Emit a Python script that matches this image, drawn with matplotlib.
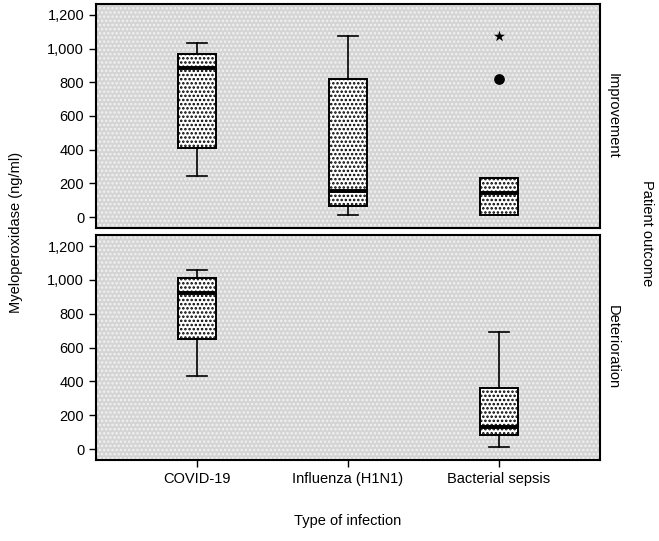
import numpy as np
import matplotlib.pyplot as plt
from matplotlib.patches import Rectangle
from matplotlib.ticker import FuncFormatter

plt.rcParams['font.family'] = ['Liberation Sans', 'DejaVu Sans']
plt.rcParams['hatch.linewidth'] = 1.2

# categories and panels
infections = ['COVID-19', 'Influenza (H1N1)', 'Bacterial sepsis']
outcomes = ['Improvement', 'Deterioration']

# box stats per panel: whislo, q1, med, q3, whishi (None = no data)
improvement = {
    'whislo': [243, 10, 12],
    'q1': [410, 65, 12],
    'med': [883, 155, 140],
    'q3': [970, 820, 232],
    'whishi': [1032, 1075, 232],
}
deterioration = {
    'whislo': [433, None, 14],
    'q1': [650, None, 85],
    'med': [922, None, 132],
    'q3': [1010, None, 360],
    'whishi': [1060, None, 693],
}

# outliers in improvement panel, bacterial sepsis
outlier_pos = [2]
outlier_val = [820]
extreme_pos = [2]
extreme_val = [1077]

yticks = [0, 200, 400, 600, 800, 1000, 1200]
fs = 10.5

fig = plt.figure(figsize=(6.59, 5.41), dpi=100)
ax_top = fig.add_axes([0.1457, 0.5786, 0.7648, 0.414])
ax_bot = fig.add_axes([0.1457, 0.1497, 0.7648, 0.4159])


def draw_panel(ax, d):
    # dotted grey background
    ax.add_patch(Rectangle((0, 0), 1, 1, transform=ax.transAxes,
                           facecolor='#d4d4d4', edgecolor='#f2f2f2',
                           hatch='....', linewidth=0, zorder=0))
    stats = []
    positions = []
    for i in range(len(infections)):
        if d['med'][i] is None:
            continue
        stats.append({'whislo': d['whislo'][i], 'q1': d['q1'][i],
                      'med': d['med'][i], 'q3': d['q3'][i],
                      'whishi': d['whishi'][i], 'fliers': []})
        positions.append(i)
    ax.bxp(stats, positions=positions, widths=0.25, patch_artist=True,
           showfliers=False, capwidths=0.13,
           boxprops=dict(facecolor='white', edgecolor='black',
                         linewidth=1.4, hatch='....'),
           medianprops=dict(color='black', linewidth=2.8),
           whiskerprops=dict(color='black', linewidth=1.2),
           capprops=dict(color='black', linewidth=1.2))
    ax.set_xlim(-0.67, 2.67)
    ax.set_ylim(-65, 1265)
    ax.set_yticks(yticks)
    ax.yaxis.set_major_formatter(FuncFormatter(lambda v, p: f'{int(v):,}'))
    ax.tick_params(axis='y', labelsize=fs, length=5, width=1)
    for s in ax.spines.values():
        s.set_linewidth(1.5)
        s.set_color('black')


draw_panel(ax_top, improvement)
draw_panel(ax_bot, deterioration)

ax_top.scatter(outlier_pos, outlier_val, s=45, color='black', zorder=3)
ax_top.scatter(extreme_pos, extreme_val, s=70, marker='*', color='black',
               linewidths=0, zorder=3)

ax_top.set_xticks([])
ax_bot.set_xticks(range(len(infections)))
ax_bot.set_xticklabels(infections)
ax_bot.tick_params(axis='x', labelsize=fs, length=5, width=1)
ax_bot.set_xlabel('Type of infection', fontsize=fs, labelpad=20)

for ax, name in zip([ax_top, ax_bot], outcomes):
    ax.text(1.012, 0.5, name, transform=ax.transAxes, rotation=-90,
            va='center', ha='left', fontsize=fs)

fig.text(0.024, 0.57, 'Myeloperoxidase (ng/ml)', rotation=90,
         va='center', ha='center', fontsize=fs)
fig.text(0.982, 0.57, 'Patient outcome', rotation=-90,
         va='center', ha='center', fontsize=fs)

fig.savefig('out.png', dpi=100)
